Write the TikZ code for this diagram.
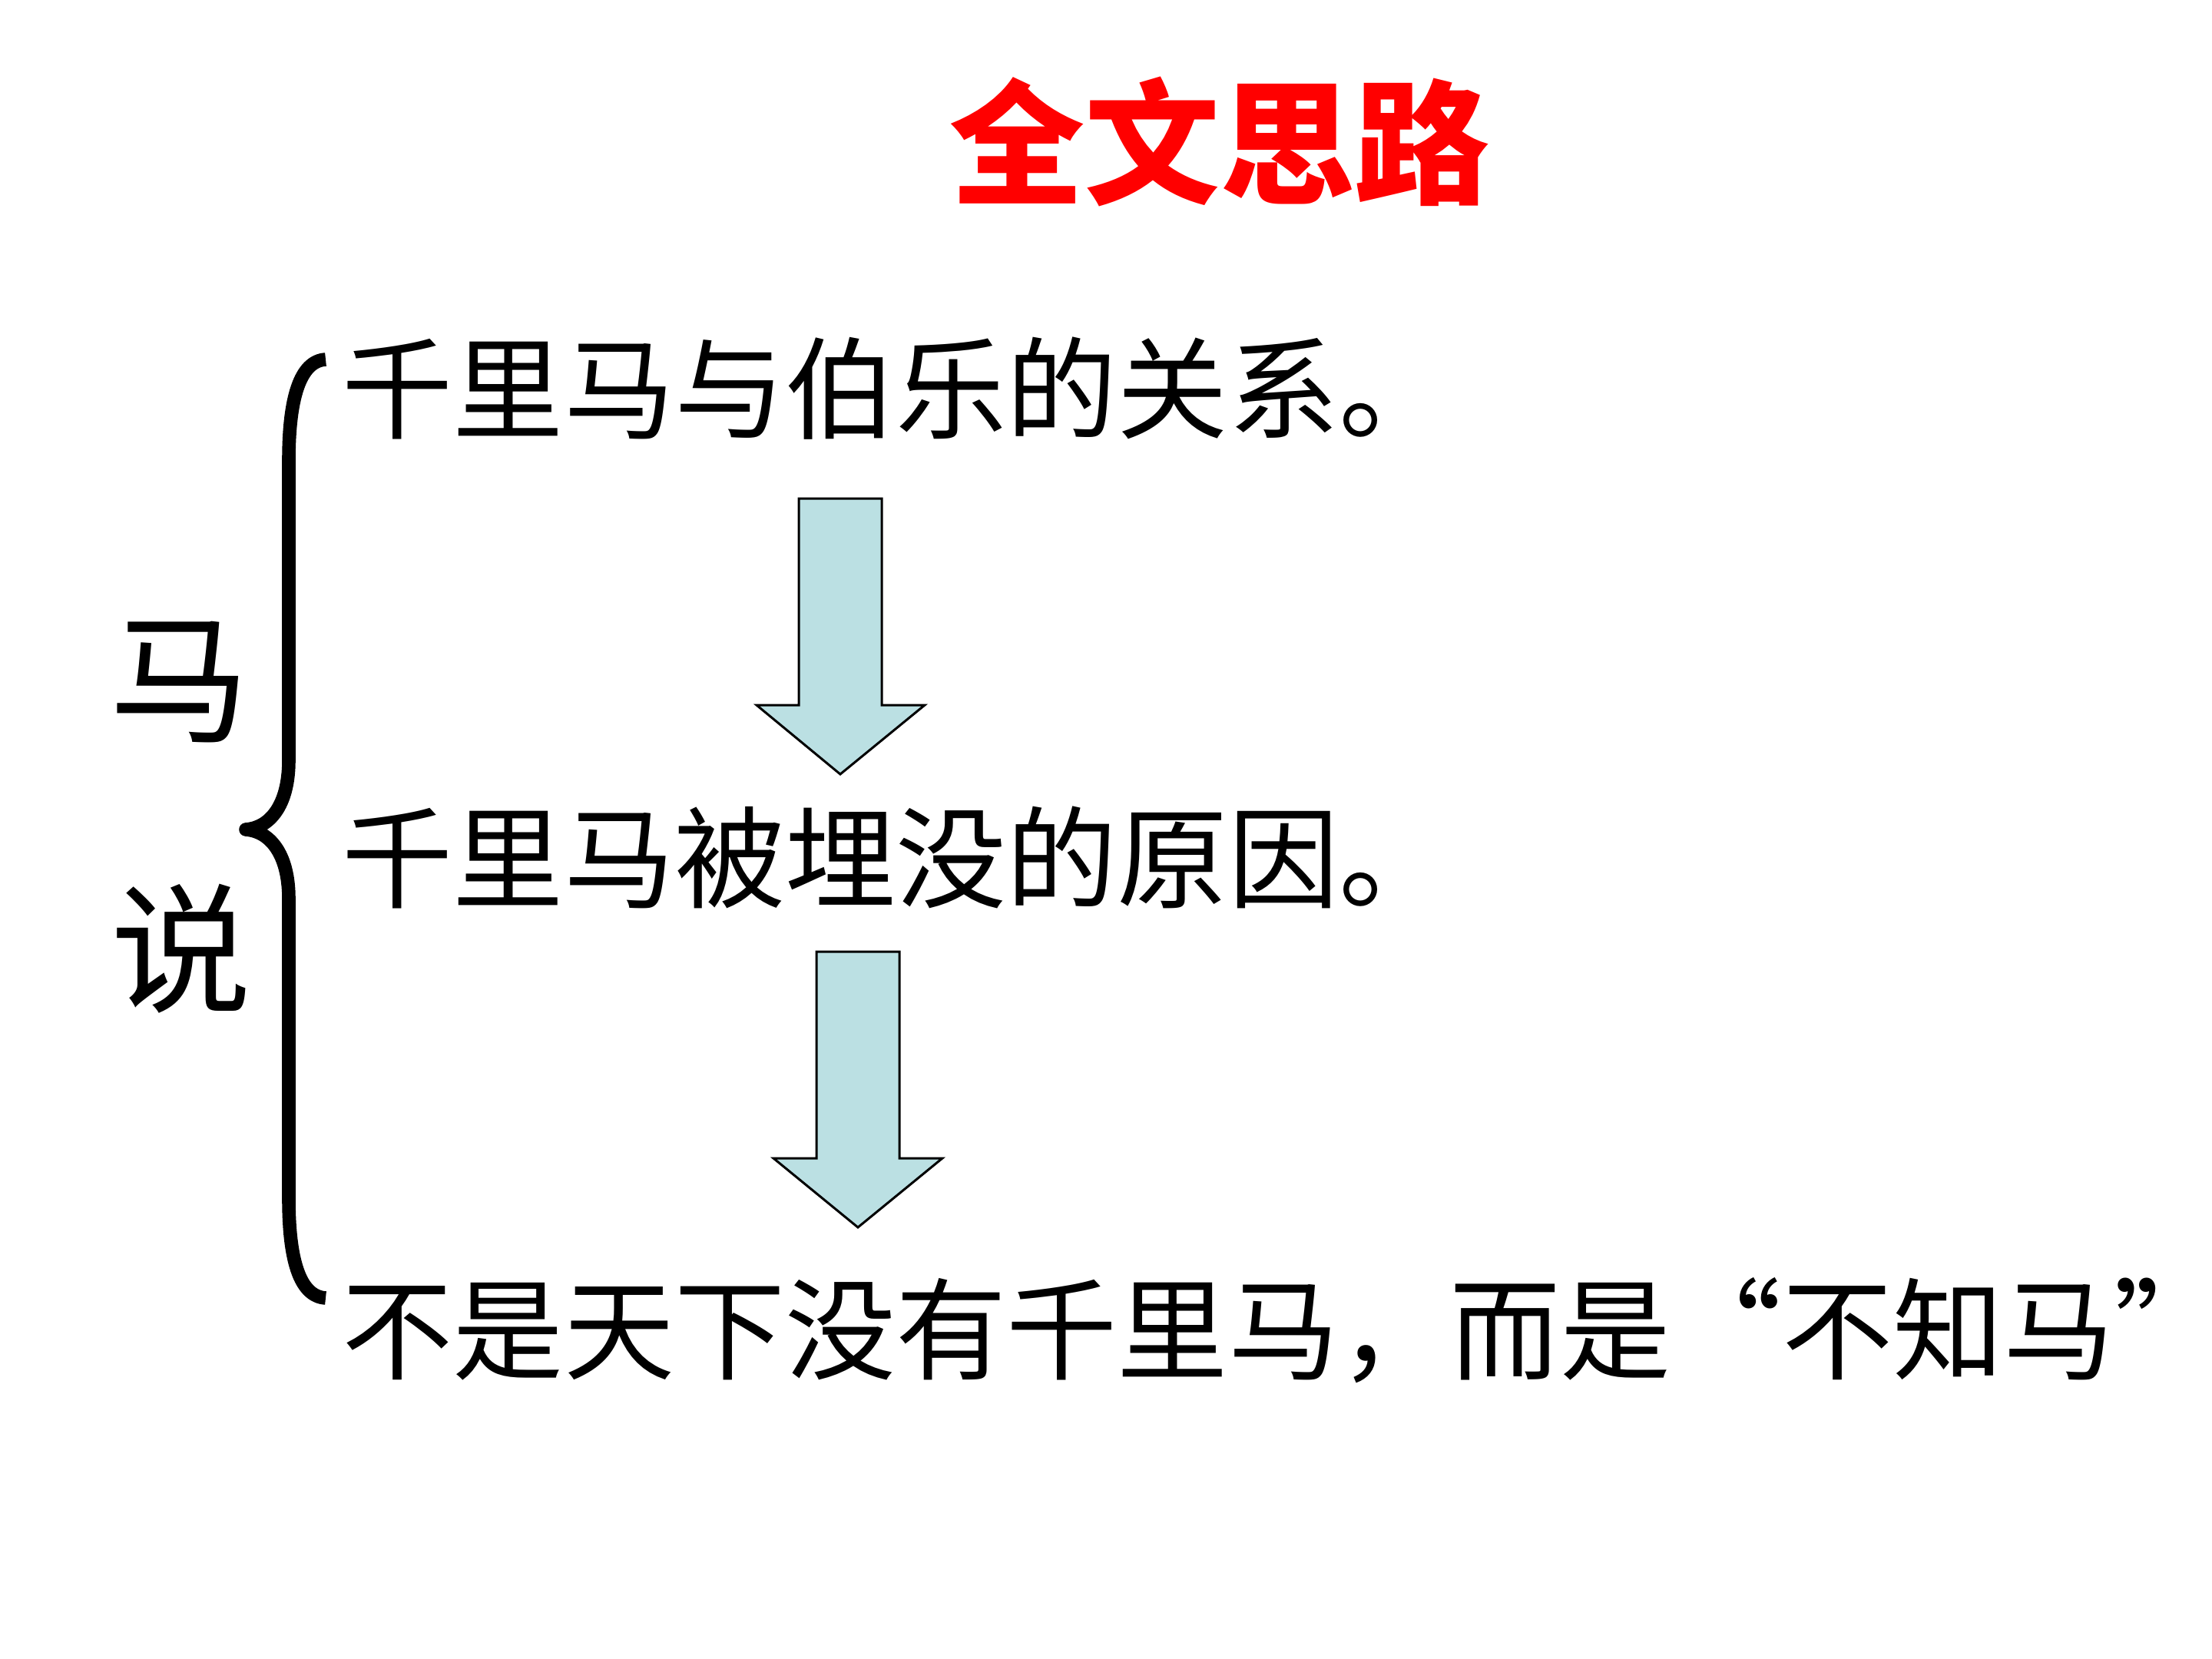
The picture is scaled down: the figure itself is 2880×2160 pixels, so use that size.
\documentclass[tikz,border=0pt]{standalone}
\usepackage{fontspec}
\newfontfamily\cjk{Noto Sans CJK SC}
\definecolor{arrowfill}{HTML}{BBE0E3}
\tikzset{
  titletext/.style={inner sep=0pt, text=red, font=\cjk\bfseries\fontsize{50pt}{50pt}\selectfont},
  linetext/.style={inner sep=0pt, anchor=base west, font=\cjk\fontsize{41pt}{41pt}\selectfont},
  sidetext/.style={inner sep=0pt, font=\cjk\fontsize{52pt}{52pt}\selectfont},
  blockarrow/.style={fill=arrowfill, draw=black, line width=0.85pt, line join=miter},
  bracestroke/.style={draw=black, line width=5pt, line join=round}
}
\begin{document}
\begin{tikzpicture}[x=0.01cm, y=-0.01cm]
\useasboundingbox (0,0) rectangle (2880,2160);
% title
\node[titletext] (title) at (1588,184) {全文思路};
% three statements
\node[linetext] (l1) at (445,560) {千里马与伯乐的关系。};
\node[linetext] (l2) at (445,1171) {千里马被埋没的原因。};
\node[linetext] (l3) at (445,1785) {不是天下没有千里马，而是\makebox[1em][r]{“}不知马”};
% side label
\node[sidetext] (ma) at (234,888) {马};
\node[sidetext] (shuo) at (236,1235) {说};
% brace
\coordinate (btop) at (424,468);
\coordinate (btip) at (320,1080);
\coordinate (bbot) at (424,1690);
\draw[bracestroke] (btop) .. controls (390,470) and (376,520) .. (376,600)
  -- (376,990) .. controls (376,1050) and (350,1078) .. (btip)
  .. controls (350,1082) and (376,1110) .. (376,1170)
  -- (376,1560) .. controls (376,1640) and (390,1688) .. (bbot);
% block arrows
\draw[blockarrow] (1040,649) -- (1148,649) -- (1148,918) -- (1204,918)
  -- (1094,1008) -- (985,918) -- (1040,918) -- cycle;
\draw[blockarrow] (1063,1239) -- (1171,1239) -- (1171,1508) -- (1227,1508)
  -- (1117,1598) -- (1007,1508) -- (1063,1508) -- cycle;
\end{tikzpicture}
\end{document}
